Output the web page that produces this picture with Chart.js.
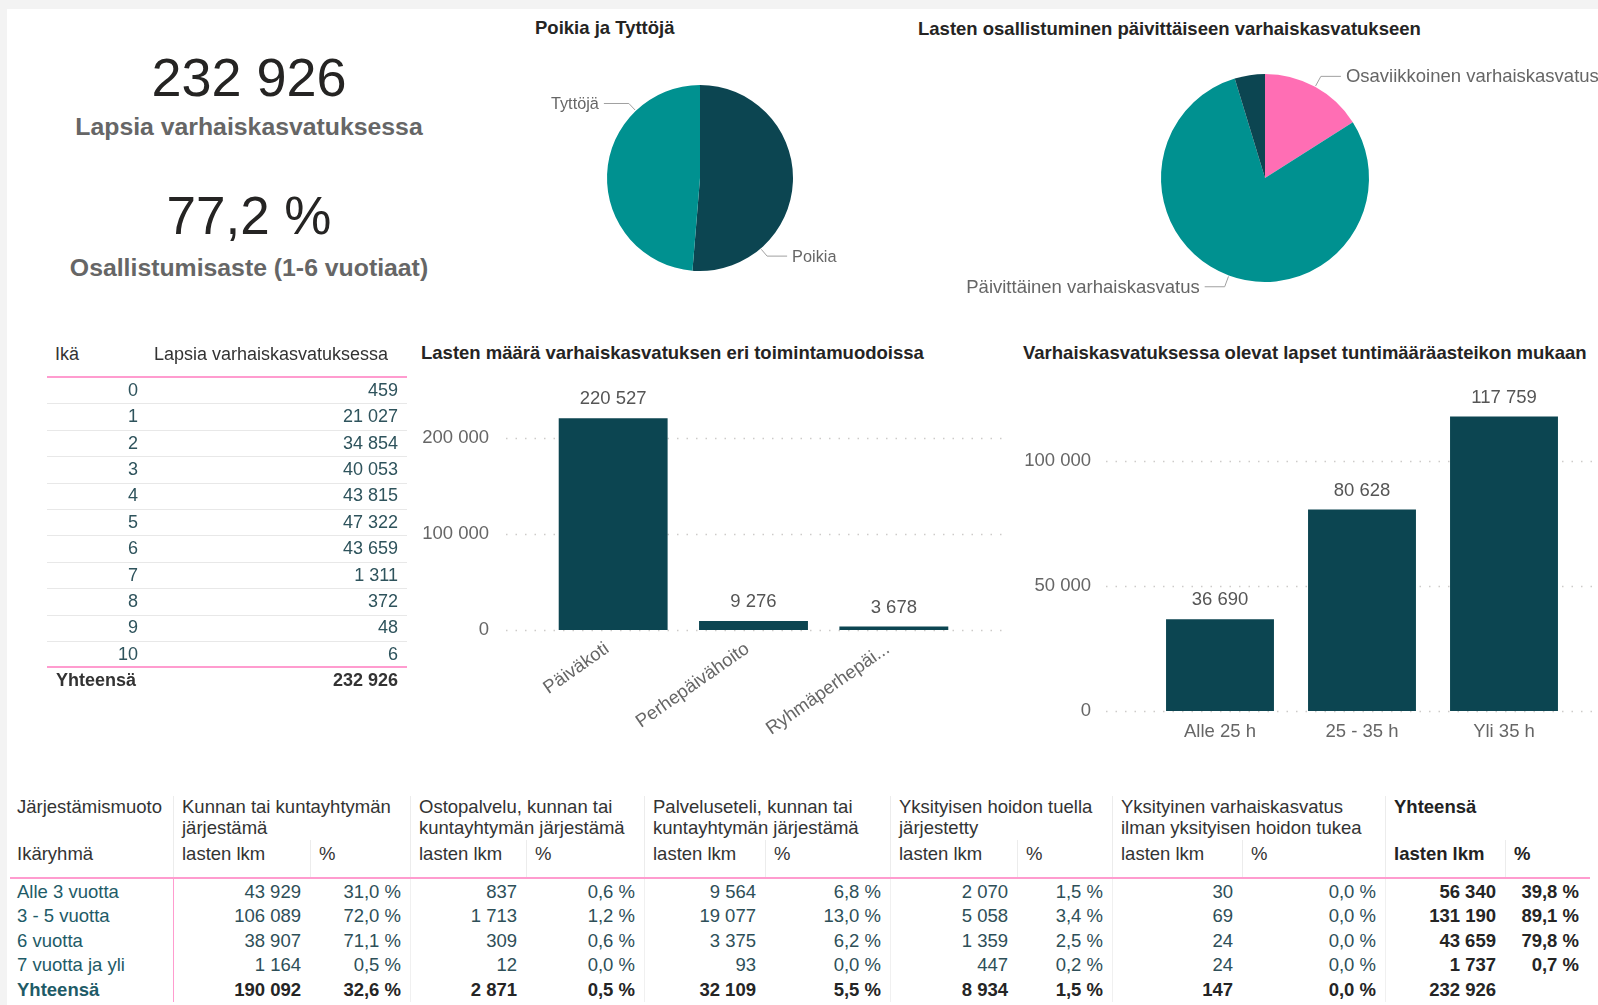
<!DOCTYPE html>
<html><head><meta charset="utf-8">
<script src="https://cdn.jsdelivr.net/npm/chart.js@4.4.1/dist/chart.umd.min.js"></script>
<style>
html,body{margin:0;padding:0;}
body{width:1598px;height:1005px;background:#f3f3f3;position:relative;overflow:hidden;font-family:'Liberation Sans',Arial,Helvetica,sans-serif;}
#panel{position:absolute;left:7px;top:9px;width:1591px;height:996px;background:#fff;}
.t{position:absolute;white-space:nowrap;}
.r{position:absolute;}
.cv{position:absolute;}
</style></head><body>
<div id="panel"></div>
<script>
// ---------- DATA ----------
const kpiTotal = 232926;
const kpiRate = 77.2;
const kpiTotalLabel = 'Lapsia varhaiskasvatuksessa';
const kpiRateLabel = 'Osallistumisaste (1-6 vuotiaat)';

const genderTitle = 'Poikia ja Tyttöjä';
const genderLabels = ['Poikia', 'Tyttöjä'];
const genderValues = [119480, 113446];

const dailyTitle = 'Lasten osallistuminen päivittäiseen varhaiskasvatukseen';
const dailyLabels = ['Osaviikkoinen varhaiskasvatus', 'Päivittäinen varhaiskasvatus', 'Tieto puuttuu'];
const dailyValues = [37270, 184710, 10946];
const dailyLabelShown = [true, true, false];

const ageHeader = ['Ikä', 'Lapsia varhaiskasvatuksessa'];
const ages = [0, 1, 2, 3, 4, 5, 6, 7, 8, 9, 10];
const ageCounts = [459, 21027, 34854, 40053, 43815, 47322, 43659, 1311, 372, 48, 6];
const ageTotalLabel = 'Yhteensä';
const ageTotal = 232926;

const formTitle = 'Lasten määrä varhaiskasvatuksen eri toimintamuodoissa';
const formCategories = ['Päiväkoti', 'Perhepäivähoito', 'Ryhmäperhepäivähoito'];
const formValues = [220527, 9276, 3678];
const formTicks = [0, 100000, 200000];

const hoursTitle = 'Varhaiskasvatuksessa olevat lapset tuntimääräasteikon mukaan';
const hoursCategories = ['Alle 25 h', '25 - 35 h', 'Yli 35 h'];
const hoursValues = [36690, 80628, 117759];
const hoursTicks = [0, 50000, 100000];

const orgCorner = ['Järjestämismuoto', 'Ikäryhmä'];
const orgGroups = [
  ['Kunnan tai kuntayhtymän', 'järjestämä'],
  ['Ostopalvelu, kunnan tai', 'kuntayhtymän järjestämä'],
  ['Palveluseteli, kunnan tai', 'kuntayhtymän järjestämä'],
  ['Yksityisen hoidon tuella', 'järjestetty'],
  ['Yksityinen varhaiskasvatus', 'ilman yksityisen hoidon tukea'],
  ['Yhteensä']
];
const orgSub = ['lasten lkm', '%'];
const orgRows = ['Alle 3 vuotta', '3 - 5 vuotta', '6 vuotta', '7 vuotta ja yli', 'Yhteensä'];
const kunnanLkm = [43929, 106089, 38907, 1164, 190092];
const kunnanPct = [31.0, 72.0, 71.1, 0.5, 32.6];
const ostoLkm = [837, 1713, 309, 12, 2871];
const ostoPct = [0.6, 1.2, 0.6, 0.0, 0.5];
const palvLkm = [9564, 19077, 3375, 93, 32109];
const palvPct = [6.8, 13.0, 6.2, 0.0, 5.5];
const yksTukiLkm = [2070, 5058, 1359, 447, 8934];
const yksTukiPct = [1.5, 3.4, 2.5, 0.2, 1.5];
const yksIlmanLkm = [30, 69, 24, 24, 147];
const yksIlmanPct = [0.0, 0.0, 0.0, 0.0, 0.0];
const yhtLkm = [56340, 131190, 43659, 1737, 232926];
const yhtPct = [39.8, 89.1, 79.8, 0.7, null];

// ---------- STYLE ----------
const FONT = "'Liberation Sans', Arial, Helvetica, sans-serif";
const C_DARK = '#0c4551';
const C_TEAL = '#009190';
const C_PINK = '#ff6eb4';
const C_LINE_PINK = '#ff9ccf';
const C_TITLE = '#252423';
const C_AXIS = '#666666';

function fmt(n) { return String(n).replace(/\B(?=(\d{3})+(?!\d))/g, ' '); }
function pct(v) { return v === null ? '' : v.toFixed(1).replace('.', ',') + ' %'; }

function txt(text, x, cy, o) {
  o = o || {};
  const size = o.size || 18.5;
  const lh = Math.round(size * 1.4);
  const d = document.createElement('div');
  d.className = 't';
  d.textContent = text;
  d.style.fontSize = size + 'px';
  d.style.lineHeight = lh + 'px';
  d.style.top = (cy - lh / 2) + 'px';
  d.style.color = o.color || '#333';
  if (o.bold) d.style.fontWeight = 'bold';
  if (o.align === 'right') { d.style.left = (x - 600) + 'px'; d.style.width = '600px'; d.style.textAlign = 'right'; }
  else if (o.align === 'center') { d.style.left = (x - 400) + 'px'; d.style.width = '800px'; d.style.textAlign = 'center'; }
  else d.style.left = x + 'px';
  document.body.appendChild(d);
}
function rect(x, y, w, h, color) {
  const d = document.createElement('div');
  d.className = 'r';
  d.style.left = x + 'px'; d.style.top = y + 'px';
  d.style.width = w + 'px'; d.style.height = h + 'px';
  d.style.background = color;
  document.body.appendChild(d);
}
function canvasBox(x, y, w, h) {
  const d = document.createElement('div');
  d.className = 'cv';
  d.style.left = x + 'px'; d.style.top = y + 'px';
  d.style.width = w + 'px'; d.style.height = h + 'px';
  const c = document.createElement('canvas');
  d.appendChild(c);
  document.body.appendChild(d);
  return c;
}

// ---------- KPI ----------
txt(fmt(kpiTotal), 249, 77, { size: 54, color: '#252423', align: 'center' });
txt(kpiTotalLabel, 249, 126.5, { size: 24.8, bold: true, color: '#666', align: 'center' });
txt(String(kpiRate).replace('.', ',') + ' %', 249, 216, { size: 53, color: '#252423', align: 'center' });
txt(kpiRateLabel, 249, 267, { size: 24.8, bold: true, color: '#666', align: 'center' });

// ---------- titles ----------
txt(genderTitle, 535, 27.5, { size: 18.5, bold: true, color: C_TITLE });
txt(dailyTitle, 918, 28.5, { size: 18.5, bold: true, color: C_TITLE });
txt(formTitle, 421, 353, { size: 18.5, bold: true, color: C_TITLE });
txt(hoursTitle, 1023, 353, { size: 18.5, bold: true, color: C_TITLE });

// ---------- Chart.js setup ----------
Chart.defaults.font.family = FONT;
Chart.defaults.animation = false;

function pick(v, i) { return Array.isArray(v) ? v[i] : v; }

const leaderLabels = {
  id: 'leaderLabels',
  afterDatasetsDraw(chart, args, opts) {
    const ctx = chart.ctx;
    const meta = chart.getDatasetMeta(0);
    const labels = chart.data.labels;
    meta.data.forEach((arc, i) => {
      if (opts.show && !opts.show[i]) return;
      const p = arc.getProps(['x', 'y', 'startAngle', 'endAngle', 'outerRadius'], true);
      const a = (p.startAngle + p.endAngle) / 2 + (pick(opts.shift, i) || 0) * Math.PI / 180;
      const cos = Math.cos(a), sin = Math.sin(a);
      const radial = pick(opts.radial, i), horiz = pick(opts.horiz, i);
      const p0x = p.x + cos * (p.outerRadius + 1), p0y = p.y + sin * (p.outerRadius + 1);
      const p1x = p.x + cos * (p.outerRadius + radial), p1y = p.y + sin * (p.outerRadius + radial);
      const dir = cos >= 0 ? 1 : -1;
      const p2x = p1x + dir * horiz;
      ctx.save();
      ctx.strokeStyle = opts.lineColor; ctx.lineWidth = 1;
      ctx.beginPath(); ctx.moveTo(p0x, p0y); ctx.lineTo(p1x, p1y); ctx.lineTo(p2x, p1y); ctx.stroke();
      ctx.font = opts.size + 'px ' + FONT;
      ctx.fillStyle = opts.color; ctx.textBaseline = 'middle'; ctx.textAlign = dir > 0 ? 'left' : 'right';
      ctx.fillText(labels[i], p2x + dir * opts.gap, p1y + 1);
      ctx.restore();
    });
  }
};

const dotGrid = {
  id: 'dotGrid',
  beforeDatasetsDraw(chart, args, opts) {
    const s = chart.scales.y; const ctx = chart.ctx;
    ctx.save();
    ctx.strokeStyle = opts.color; ctx.lineWidth = opts.width; ctx.setLineDash(opts.dash);
    s.ticks.forEach(t => {
      const y = Math.round(s.getPixelForValue(t.value)) + 0.5;
      ctx.beginPath(); ctx.moveTo(opts.x0, y); ctx.lineTo(opts.x1, y); ctx.stroke();
    });
    ctx.restore();
  }
};

const barValueLabels = {
  id: 'barValueLabels',
  afterDatasetsDraw(chart, args, opts) {
    const ctx = chart.ctx; const meta = chart.getDatasetMeta(0);
    const vals = chart.data.datasets[0].data;
    ctx.save();
    ctx.font = opts.size + 'px ' + FONT; ctx.fillStyle = opts.color;
    ctx.textAlign = 'center'; ctx.textBaseline = 'middle';
    meta.data.forEach((bar, i) => { ctx.fillText(fmt(vals[i]), bar.x, bar.y - opts.offset); });
    ctx.restore();
  }
};

// ---------- Pie 1 ----------
new Chart(canvasBox(470, 50, 420, 260), {
  type: 'pie',
  data: { labels: genderLabels, datasets: [{ data: genderValues, backgroundColor: [C_DARK, C_TEAL], borderWidth: 0 }] },
  options: {
    responsive: true, maintainAspectRatio: false, devicePixelRatio: 1,
    layout: { padding: { left: 137, right: 97, top: 35, bottom: 39 } },
    plugins: {
      legend: { display: false }, tooltip: { enabled: false },
      leaderLabels: { shift: [47, 44], radial: 10, horiz: [20, 25], gap: 5, size: 16.3, color: '#666', lineColor: '#a0a0a0' }
    }
  },
  plugins: [leaderLabels]
});

// ---------- Pie 2 ----------
new Chart(canvasBox(900, 45, 698, 270), {
  type: 'pie',
  data: { labels: dailyLabels, datasets: [{ data: dailyValues, backgroundColor: [C_PINK, C_TEAL, C_DARK], borderWidth: 0 }] },
  options: {
    responsive: true, maintainAspectRatio: false, devicePixelRatio: 1,
    layout: { padding: { left: 261, right: 229, top: 29, bottom: 33 } },
    plugins: {
      legend: { display: false }, tooltip: { enabled: false },
      leaderLabels: { show: dailyLabelShown, shift: 0, radial: 12, horiz: 20, gap: 5, size: 18.5, color: '#666', lineColor: '#a0a0a0' }
    }
  },
  plugins: [leaderLabels]
});

// ---------- Bar 1 ----------
new Chart(canvasBox(400, 370, 610, 380), {
  type: 'bar',
  data: { labels: formCategories, datasets: [{ data: formValues, backgroundColor: C_DARK, categoryPercentage: 1, barPercentage: 0.776 }] },
  options: {
    responsive: true, maintainAspectRatio: false, devicePixelRatio: 1,
    layout: { padding: { left: 0, right: 46, top: 20, bottom: 0 } },
    scales: {
      x: {
        grid: { display: false, drawTicks: false }, border: { display: false },
        afterFit: s => { s.height = 120; },
        ticks: {
          autoSkip: false, minRotation: 35, maxRotation: 35, padding: 8, labelOffset: -6,
          color: C_AXIS, font: { size: 18.5 },
          callback: function (v) { const l = this.getLabelForValue(v); return l.length > 16 ? l.slice(0, 13) + '...' : l; }
        }
      },
      y: {
        min: 0, max: 250000,
        grid: { display: false, drawTicks: true, tickLength: 54 }, border: { display: false },
        afterFit: s => { s.width = 143; },
        afterBuildTicks: s => { s.ticks = formTicks.map(v => ({ value: v })); },
        ticks: { padding: 0, color: C_AXIS, font: { size: 18.5 }, callback: v => fmt(v) }
      }
    },
    plugins: {
      legend: { display: false }, tooltip: { enabled: false },
      dotGrid: { x0: 106, x1: 604, color: '#cdcbc9', width: 1.5, dash: [1.5, 8] },
      barValueLabels: { offset: 19, size: 18.5, color: '#555' }
    }
  },
  plugins: [dotGrid, barValueLabels]
});

// ---------- Bar 2 ----------
new Chart(canvasBox(1015, 370, 583, 380), {
  type: 'bar',
  data: { labels: hoursCategories, datasets: [{ data: hoursValues, backgroundColor: C_DARK, categoryPercentage: 1, barPercentage: 0.76 }] },
  options: {
    responsive: true, maintainAspectRatio: false, devicePixelRatio: 1,
    layout: { padding: { left: 0, right: 23, top: 16, bottom: 0 } },
    scales: {
      x: {
        grid: { display: false, drawTicks: false }, border: { display: false },
        afterFit: s => { s.height = 39; },
        ticks: { autoSkip: false, maxRotation: 0, padding: 10, color: C_AXIS, font: { size: 18.5 } }
      },
      y: {
        min: 0, max: 130000,
        grid: { display: false, drawTicks: true, tickLength: 58 }, border: { display: false },
        afterFit: s => { s.width = 134; },
        afterBuildTicks: s => { s.ticks = hoursTicks.map(v => ({ value: v })); },
        ticks: { padding: 0, color: C_AXIS, font: { size: 18.5 }, callback: v => fmt(v) }
      }
    },
    plugins: {
      legend: { display: false }, tooltip: { enabled: false },
      dotGrid: { x0: 91, x1: 583, color: '#cdcbc9', width: 1.5, dash: [1.5, 8] },
      barValueLabels: { offset: 19, size: 18.5, color: '#555' }
    }
  },
  plugins: [dotGrid, barValueLabels]
});

// ---------- Age table ----------
(function () {
  const x0 = 47, x1 = 407, ageRight = 138, valRight = 398;
  const rowH = 26.4, firstTop = 377;
  txt(ageHeader[0], 55, 354, { size: 18, color: '#333' });
  txt(ageHeader[1], 154, 354, { size: 18, color: '#333' });
  rect(x0, firstTop - 1, x1 - x0, 2, C_LINE_PINK);
  ages.forEach((a, i) => {
    const cy = firstTop + rowH * i + rowH / 2;
    txt(String(a), ageRight, cy, { size: 18, color: '#2e535c', align: 'right' });
    txt(fmt(ageCounts[i]), valRight, cy, { size: 18, color: '#2e535c', align: 'right' });
    if (i < ages.length - 1) rect(x0, Math.round(firstTop + rowH * (i + 1)), x1 - x0, 1, '#e8e8e8');
  });
  const endY = firstTop + rowH * ages.length;
  rect(x0, Math.round(endY) - 1, x1 - x0, 2, C_LINE_PINK);
  txt(ageTotalLabel, 56, endY + 13.5, { size: 18, bold: true, color: '#333' });
  txt(fmt(ageTotal), valRight, endY + 13.5, { size: 18, bold: true, color: '#333', align: 'right' });
})();

// ---------- Organisation table ----------
(function () {
  const bounds = [7, 173, 310, 410, 526, 644, 765, 890, 1017, 1112, 1242, 1385, 1505, 1588];
  const pad = 9, S = 18.5;
  const hTop = 796, hMid = 840, hBot = 878, bodyBottom = 1002;
  txt(orgCorner[0], 17, 807, { size: S, color: '#333' });
  txt(orgCorner[1], 17, 854, { size: S, color: '#333' });
  orgGroups.forEach((g, gi) => {
    const left = bounds[1 + gi * 2] + pad;
    const last = gi === orgGroups.length - 1;
    g.forEach((line, li) => txt(line, left, 807 + li * 21, { size: S, color: last ? '#222' : '#333', bold: last }));
    txt(orgSub[0], left, 854, { size: S, color: last ? '#222' : '#333', bold: last });
    txt(orgSub[1], bounds[2 + gi * 2] + pad, 854, { size: S, color: last ? '#222' : '#333', bold: last });
    rect(bounds[1 + gi * 2], hTop, 1, hBot - hTop, '#ececec');
    rect(bounds[2 + gi * 2], hMid, 1, hBot - hMid, '#ececec');
    if (gi > 0) rect(bounds[1 + gi * 2], hBot, 1, bodyBottom - hBot, '#f0f0f0');
  });
  rect(bounds[1], hBot, 1, bodyBottom - hBot, C_LINE_PINK);
  rect(10, hBot - 1, 1580, 2, C_LINE_PINK);
  const cols = [kunnanLkm, kunnanPct, ostoLkm, ostoPct, palvLkm, palvPct, yksTukiLkm, yksTukiPct, yksIlmanLkm, yksIlmanPct, yhtLkm, yhtPct];
  const rowH = 24.6, firstCy = 891.5;
  orgRows.forEach((r, ri) => {
    const cy = firstCy + ri * rowH;
    const totalRow = ri === orgRows.length - 1;
    txt(r, 17, cy, { size: S, color: '#1e5b67', bold: totalRow });
    cols.forEach((col, ci) => {
      const v = col[ri];
      const isPct = ci % 2 === 1;
      const s = isPct ? pct(v) : fmt(v);
      const right = bounds[ci + 2] - pad;
      const bold = totalRow || ci >= 10;
      txt(s, right, cy, { size: S, color: bold ? '#252525' : '#2e4f58', bold: bold, align: 'right' });
    });
  });
})();
</script>
</body></html>
